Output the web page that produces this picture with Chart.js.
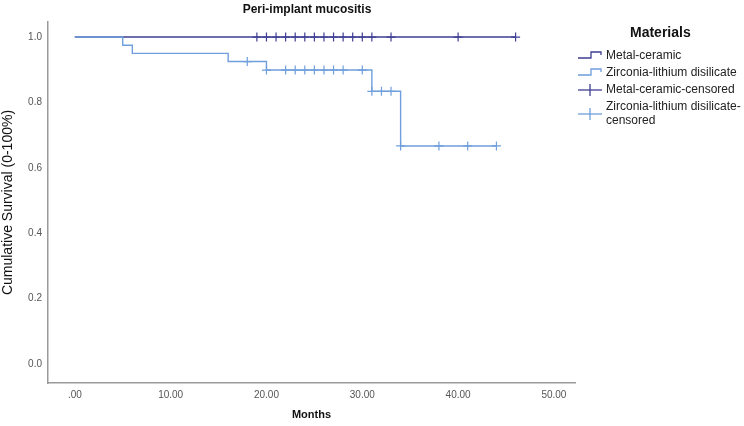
<!DOCTYPE html>
<html>
<head>
<meta charset="utf-8">
<script src="https://cdn.jsdelivr.net/npm/chart.js@4"></script>
<style>
  html,body{margin:0;padding:0;background:#fff;}
  #wrap{position:relative;width:744px;height:426px;font-family:"Liberation Sans",Arial,sans-serif;}
  #c{position:absolute;left:0;top:0;}
  #title{position:absolute;left:207px;width:200px;top:2px;text-align:center;font-weight:bold;font-size:12px;color:#111;}
  #legend{position:absolute;left:576px;top:24px;width:168px;color:#222;font-size:12px;}
  #legend .lt{font-weight:bold;font-size:14px;margin-left:54px;margin-bottom:8px;color:#111;}
  #legend .it{position:relative;padding-left:30px;line-height:14px;margin-bottom:3px;}
  #legend svg{position:absolute;left:2px;top:1px;}
</style>
</head>
<body>
<div id="wrap">
  <canvas id="c" width="744" height="426"></canvas>
  <div id="title">Peri-implant mucositis</div>
  <div id="legend">
    <div class="lt">Materials</div>
    <div class="it"><svg width="26" height="12"><polyline points="0,9 13,9 13,3 23,3 23,6" fill="none" stroke="#3e3e94" stroke-width="1.3"/></svg>Metal-ceramic</div>
    <div class="it"><svg width="26" height="12"><polyline points="0,9 13,9 13,3 23,3 23,6" fill="none" stroke="#6f9fdc" stroke-width="1.3"/></svg>Zirconia-lithium disilicate</div>
    <div class="it"><svg width="26" height="14"><line x1="0" y1="7" x2="24" y2="7" stroke="#3e3e94" stroke-width="1.3"/><line x1="12" y1="1" x2="12" y2="13" stroke="#3e3e94" stroke-width="1.3"/></svg>Metal-ceramic-censored</div>
    <div class="it"><svg width="26" height="26"><line x1="0" y1="14" x2="24" y2="14" stroke="#6f9fdc" stroke-width="1.3"/><line x1="12" y1="8" x2="12" y2="20" stroke="#6f9fdc" stroke-width="1.3"/></svg>Zirconia-lithium disilicate-<br>censored</div>
  </div>
</div>
<script>
// Kaplan-Meier step points (time in months, cumulative survival)
const metalTimes = [0, 46];
const metalSurv  = [1.0, 1.0];
const zircTimes  = [0, 5, 6, 16, 20, 31, 34, 44];
const zircSurv   = [1.0, 0.975, 0.95, 0.925, 0.899, 0.834, 0.667, 0.667];
// Censored observations
const metalCensTimes = [19, 20, 21, 22, 23, 24, 25, 26, 27, 28, 29, 30, 31, 33, 40, 46];
const metalCensSurv  = [1, 1, 1, 1, 1, 1, 1, 1, 1, 1, 1, 1, 1, 1, 1, 1];
const zircCensTimes  = [18, 20, 22, 23, 24, 25, 26, 27, 28, 30, 31, 32, 33, 34, 38, 41, 44];
const zircCensSurv   = [0.925, 0.899, 0.899, 0.899, 0.899, 0.899, 0.899, 0.899, 0.899, 0.899, 0.834, 0.834, 0.834, 0.667, 0.667, 0.667, 0.667];
// Tick labels
const xTicks = [0, 10, 20, 30, 40, 50];
const yTicks = [0, 0.2, 0.4, 0.6, 0.8, 1.0];

const darkBlue = '#3e3e94';
const lightBlue = '#6f9fdc';

const pts = (xs, ys) => xs.map((x, i) => ({x: x, y: ys[i]}));

new Chart(document.getElementById('c'), {
  type: 'scatter',
  data: {
    datasets: [
      {label: 'Zirconia-lithium disilicate-censored', data: pts(zircCensTimes, zircCensSurv), showLine: false, order: 0,
       pointStyle: 'cross', pointRadius: 4.5, borderColor: lightBlue, borderWidth: 1.2, backgroundColor: lightBlue},
      {label: 'Zirconia-lithium disilicate', data: pts(zircTimes, zircSurv), showLine: true, stepped: 'before', order: 1,
       pointRadius: 0, borderColor: lightBlue, borderWidth: 1.4, fill: false},
      {label: 'Metal-ceramic-censored', data: pts(metalCensTimes, metalCensSurv), showLine: false, order: 2,
       pointStyle: 'cross', pointRadius: 4.5, borderColor: darkBlue, borderWidth: 1.2, backgroundColor: darkBlue},
      {label: 'Metal-ceramic', data: pts(metalTimes, metalSurv), showLine: true, stepped: 'before', order: 3,
       pointRadius: 0, borderColor: darkBlue, borderWidth: 1.4, fill: false}
    ]
  },
  options: {
    responsive: false,
    animation: false,
    layout: {padding: {left: 0, right: 169, top: 22, bottom: 0}},
    plugins: {legend: {display: false}, tooltip: {enabled: false}, title: {display: false}},
    scales: {
      x: {
        type: 'linear', min: -2.8, max: 52.2,
        grid: {display: false, drawTicks: false},
        border: {display: true, color: '#9a9a9a', width: 1.5},
        afterBuildTicks: (s) => { s.ticks = xTicks.map(v => ({value: v})); },
        afterFit: (s) => { s.height = 43; },
        ticks: {padding: 6, color: '#555', font: {family: 'Liberation Sans', size: 10},
                maxRotation: 0, callback: (v) => v === 0 ? '.00' : v.toFixed(2)},
        title: {display: true, text: 'Months', color: '#111', padding: {top: 0, bottom: 4},
                font: {family: 'Liberation Sans', size: 11, weight: 'bold'}}
      },
      y: {
        type: 'linear', min: -0.058, max: 1.046,
        grid: {display: false, drawTicks: false},
        border: {display: true, color: '#9a9a9a', width: 1.5},
        afterBuildTicks: (s) => { s.ticks = yTicks.map(v => ({value: v})); },
        afterFit: (s) => { s.width = 48; },
        ticks: {padding: 6, color: '#555', font: {family: 'Liberation Sans', size: 10},
                callback: (v) => v.toFixed(1)},
        title: {display: true, text: 'Cumulative Survival (0-100%)', color: '#111', padding: {top: 0, bottom: 0},
                font: {family: 'Liberation Sans', size: 14}}
      }
    }
  }
});
</script>
</body>
</html>
